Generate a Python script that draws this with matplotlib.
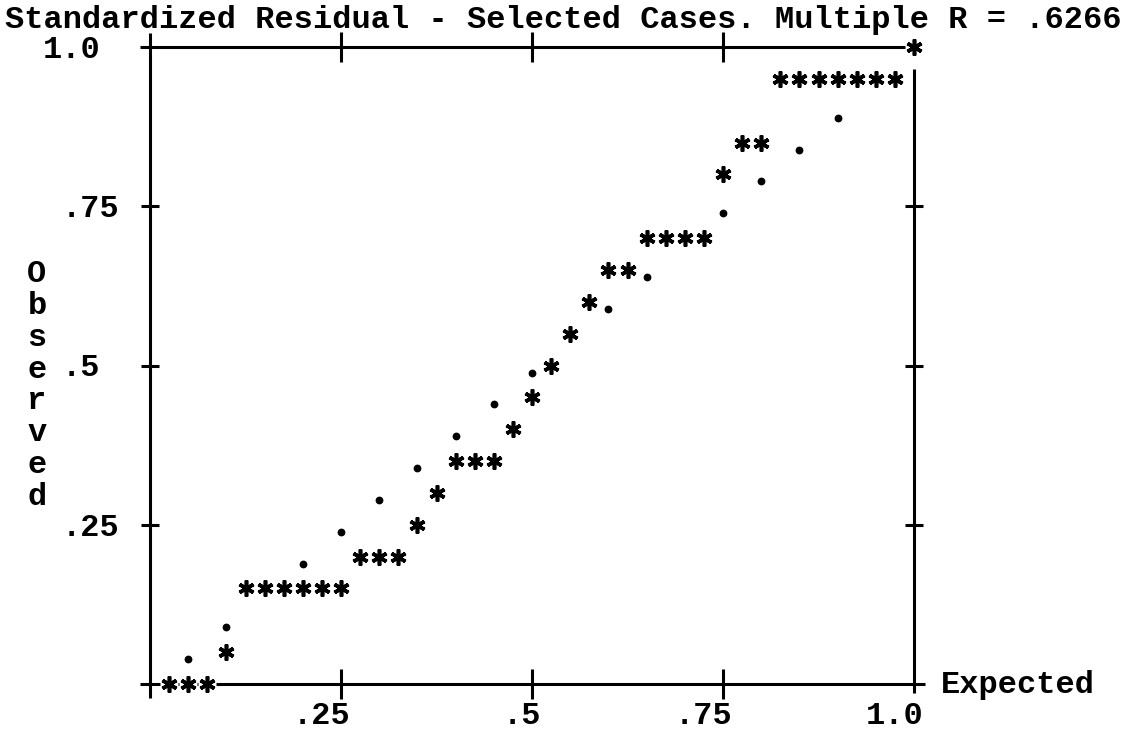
import matplotlib
matplotlib.use("Agg")
from matplotlib import pyplot as plt
from matplotlib.transforms import ScaledTranslation

# cases printed as asterisks: expected vs observed cumulative probability
expected = [0.025, 0.05, 0.075,
            0.1,
            0.125, 0.15, 0.175, 0.2, 0.225, 0.25,
            0.275, 0.3, 0.325,
            0.35,
            0.375,
            0.4, 0.425, 0.45,
            0.475,
            0.5,
            0.525,
            0.55,
            0.575,
            0.6, 0.625,
            0.65, 0.675, 0.7, 0.725,
            0.75,
            0.775, 0.8,
            0.825, 0.85, 0.875, 0.9, 0.925, 0.95, 0.975,
            1.0]
observed = [0.0, 0.0, 0.0,
            0.05,
            0.15, 0.15, 0.15, 0.15, 0.15, 0.15,
            0.2, 0.2, 0.2,
            0.25,
            0.3,
            0.35, 0.35, 0.35,
            0.4,
            0.45,
            0.5,
            0.55,
            0.6,
            0.65, 0.65,
            0.7, 0.7, 0.7, 0.7,
            0.8,
            0.85, 0.85,
            0.95, 0.95, 0.95, 0.95, 0.95, 0.95, 0.95,
            1.0]

# diagonal reference line, printed as dots where no case covers it
ref_line = [0.05, 0.1, 0.2, 0.25, 0.3, 0.35, 0.4, 0.45, 0.5,
            0.6, 0.65, 0.75, 0.8, 0.85, 0.9]

x_ticks = [0.25, 0.5, 0.75]
x_labels = [".25", ".5", ".75", "1.0"]
x_label_pos = [0.25, 0.5, 0.75, 1.0]
y_ticks = [0.25, 0.5, 0.75]
y_labels = [".25", ".5", ".75", "1.0"]
y_label_pos = [0.25, 0.5, 0.75, 1.0]

title = "Standardized Residual - Selected Cases. Multiple R = .6266"
x_name = "Expected"
y_name = "Observed"

W, H = 1125, 733
FONT = dict(family="Liberation Mono", weight="bold", size=23, color="black")
LW = 2.2
PT = 0.72  # px -> pt at dpi 100


def fig_xy(x, y):
    return x / W, 1 - y / H


fig = plt.figure(figsize=(W / 100, H / 100), dpi=100)
ax = fig.add_axes([150 / W, (H - 684) / H, 764 / W, 637 / H])
ax.set_xlim(0, 1)
ax.set_ylim(0, 1)
for s in ax.spines.values():
    s.set_visible(False)

# frame drawn by hand so the corners stick out like "+"
frame = dict(color="black", lw=LW, transform=ax.transAxes, clip_on=False,
             zorder=2, solid_capstyle="butt")
ax.plot([0, 0], [-0.022, 1.022], **frame)
ax.plot([-0.013, 1.014], [0, 0], **frame)
ax.plot([-0.013, 1.0], [1, 1], **frame)
ax.plot([1, 1], [-0.014, 0.965], **frame)

ax.set_xticks(x_ticks)
ax.set_yticks(y_ticks)
ax.tick_params(axis="x", direction="inout", length=21, width=LW,
               top=True, bottom=True, labelbottom=False)
ax.tick_params(axis="y", direction="inout", length=13, width=LW,
               left=True, right=True, labelleft=False)

# white cell behind each asterisk blanks the axis line, like a printout
ax.plot(expected, observed, ls="none", marker="s", ms=12.5, mfc="white",
        mec="none", clip_on=False, zorder=3)
ax.plot(expected, observed, ls="none", marker=(6, 2, 0), ms=11.5, mew=2.6,
        color="black", clip_on=False, zorder=4)

# dots sit low in their character cell
dot_shift = ax.transData + ScaledTranslation(0, -7 / 100, fig.dpi_scale_trans)
ax.plot(ref_line, ref_line, ls="none", marker="o", ms=4.6, color="black",
        transform=dot_shift, clip_on=False, zorder=4)

for pos, lab in zip(x_label_pos, x_labels):
    ax.annotate(lab, xy=(pos, 0), xycoords=("data", "axes fraction"),
                xytext=(9.6 * PT, -40 * PT), textcoords="offset points",
                ha="right", va="baseline", **FONT)

for pos, lab in zip(y_label_pos, y_labels):
    left_px = 43 if lab.startswith("1") else 62
    ax.annotate(lab, xy=(0, pos), xycoords=("axes fraction", "data"),
                xytext=((left_px - 150) * PT, -11 * PT), textcoords="offset points",
                ha="left", va="baseline", **FONT)

fig.text(*fig_xy(5, 28), title, ha="left", va="baseline", **FONT)
fig.text(*fig_xy(941, 693), x_name, ha="left", va="baseline", **FONT)
for i, ch in enumerate(y_name):
    fig.text(*fig_xy(37, 282 + 31.86 * i), ch, ha="center", va="baseline", **FONT)

fig.savefig("out.png", dpi=100, facecolor="white")
